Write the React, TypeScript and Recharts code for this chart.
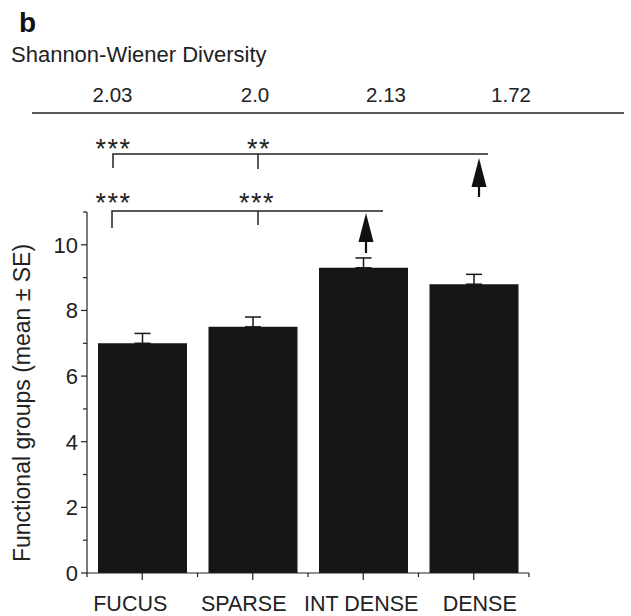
import React from 'react';
import { BarChart, Bar, XAxis, YAxis, ErrorBar } from 'recharts';

// ---- data ----
const categories = ['FUCUS', 'SPARSE', 'INT DENSE', 'DENSE'];
const meanValues = [7.0, 7.5, 9.3, 8.8];
const seValues = [0.3, 0.3, 0.3, 0.3];
const diversityValues = ['2.03', '2.0', '2.13', '1.72'];
const yTickValues = [0, 1, 2, 3, 4, 5, 6, 7, 8, 9, 10, 11];
const upperSigLabels = ['***', '**'];
const lowerSigLabels = ['***', '***'];

const data = categories.map((name, i) => ({
  name,
  mean: meanValues[i],
  err: [0, seValues[i]],
}));

// ---- layout ----
const W = 631;
const H = 616;
const M_TOP = 212;
const M_RIGHT = 102;
const Y_AXIS_W = 87;
const X_AXIS_H = 43;
const PLOT_W = W - Y_AXIS_W - M_RIGHT;
const BAND = PLOT_W / categories.length;
const LABEL_DX = [-12, -9, -2, 6];
const FONT = '"Liberation Sans", Arial, Helvetica, sans-serif';

const YTick = (props: any) => {
  const { x, y, payload } = props;
  const v = payload.value;
  const major = v % 2 === 0;
  return (
    <g>
      <line x1={x - (major ? 6 : 4)} x2={x} y1={y} y2={y} stroke="#222" strokeWidth={1.2} />
      {major && (
        <text x={x - 9} y={y + 7.8} textAnchor="end" fontSize={22} fontFamily={FONT} fill="#222">
          {v}
        </text>
      )}
    </g>
  );
};

const XTick = (props: any) => {
  const { x, y, payload, index } = props;
  return (
    <g>
      <line x1={x} x2={x} y1={y} y2={y + 7} stroke="#222" strokeWidth={1.2} />
      {index === 0 && (
        <line x1={x - BAND / 2} x2={x - BAND / 2} y1={y} y2={y + 4} stroke="#222" strokeWidth={1.2} />
      )}
      <line x1={x + BAND / 2} x2={x + BAND / 2} y1={y} y2={y + 4} stroke="#222" strokeWidth={1.2} />
      <text
        x={x + (LABEL_DX[index] || 0)}
        y={y + 38}
        textAnchor="middle"
        fontSize={21.5}
        fontFamily={FONT}
        fill="#222"
      >
        {payload.value}
      </text>
    </g>
  );
};

const divX = [112.5, 255, 386, 511];

const Overlay = () => (
  <svg
    width={W}
    height={H}
    style={{ position: 'absolute', left: 0, top: 0, pointerEvents: 'none' }}
    fontFamily={FONT}
  >
    <text x={19} y={32} fontSize={28} fontWeight="bold" fill="#111">b</text>
    <text x={11} y={62} fontSize={22} fill="#222">Shannon-Wiener Diversity</text>
    {diversityValues.map((d, i) => (
      <text key={d + i} x={divX[i]} y={102} fontSize={20.5} textAnchor="middle" fill="#222">{d}</text>
    ))}
    <line x1={32} x2={624} y1={113} y2={113} stroke="#222" strokeWidth={1.6} />

    {/* upper bracket */}
    <path d="M113 168 V154 H488" fill="none" stroke="#222" strokeWidth={1.5} />
    <line x1={258} x2={258} y1={154} y2={169} stroke="#222" strokeWidth={1.5} />
    <text x={113.5} y={158} fontSize={27} textAnchor="middle" letterSpacing={1.5} fill="#222">{upperSigLabels[0]}</text>
    <text x={259} y={158} fontSize={27} textAnchor="middle" letterSpacing={1.5} fill="#222">{upperSigLabels[1]}</text>
    <polygon points="479,158 471.5,187 486.5,187" fill="#111" />
    <line x1={479} x2={479} y1={186} y2={197} stroke="#111" strokeWidth={2.2} />

    {/* lower bracket */}
    <path d="M112 228 V211 H383" fill="none" stroke="#222" strokeWidth={1.5} />
    <line x1={258} x2={258} y1={211} y2={225} stroke="#222" strokeWidth={1.5} />
    <text x={113.5} y={212} fontSize={27} textAnchor="middle" letterSpacing={1.5} fill="#222">{lowerSigLabels[0]}</text>
    <text x={257} y={212} fontSize={27} textAnchor="middle" letterSpacing={1.5} fill="#222">{lowerSigLabels[1]}</text>
    <polygon points="366,213 358.5,242 373.5,242" fill="#111" />
    <line x1={366} x2={366} y1={241} y2={253} stroke="#111" strokeWidth={2.2} />

    <text
      transform="translate(30,403) rotate(-90)"
      textAnchor="middle"
      fontSize={23}
      fill="#222"
    >
      Functional groups (mean ± SE)
    </text>
  </svg>
);

export default function App() {
  return (
    <div style={{ position: 'absolute', left: 0, top: 0, width: W, height: H, background: '#fff' }}>
      <BarChart
        width={W}
        height={H}
        data={data}
        margin={{ top: M_TOP, right: M_RIGHT, bottom: 0, left: 0 }}
        barCategoryGap={11}
      >
        <XAxis
          dataKey="name"
          height={X_AXIS_H}
          tickLine={false}
          tickSize={0}
          tickMargin={0}
          interval={0}
          axisLine={{ stroke: '#222', strokeWidth: 1.2 }}
          tick={<XTick />}
        />
        <YAxis
          width={Y_AXIS_W}
          domain={[0, 11]}
          ticks={yTickValues}
          interval={0}
          tickLine={false}
          tickSize={0}
          tickMargin={0}
          axisLine={{ stroke: '#222', strokeWidth: 1.2 }}
          tick={<YTick />}
        />
        <Bar dataKey="mean" fill="#161616" isAnimationActive={false}>
          <ErrorBar dataKey="err" width={8} stroke="#161616" strokeWidth={1.5} direction="y" />
        </Bar>
      </BarChart>
      <Overlay />
    </div>
  );
}
